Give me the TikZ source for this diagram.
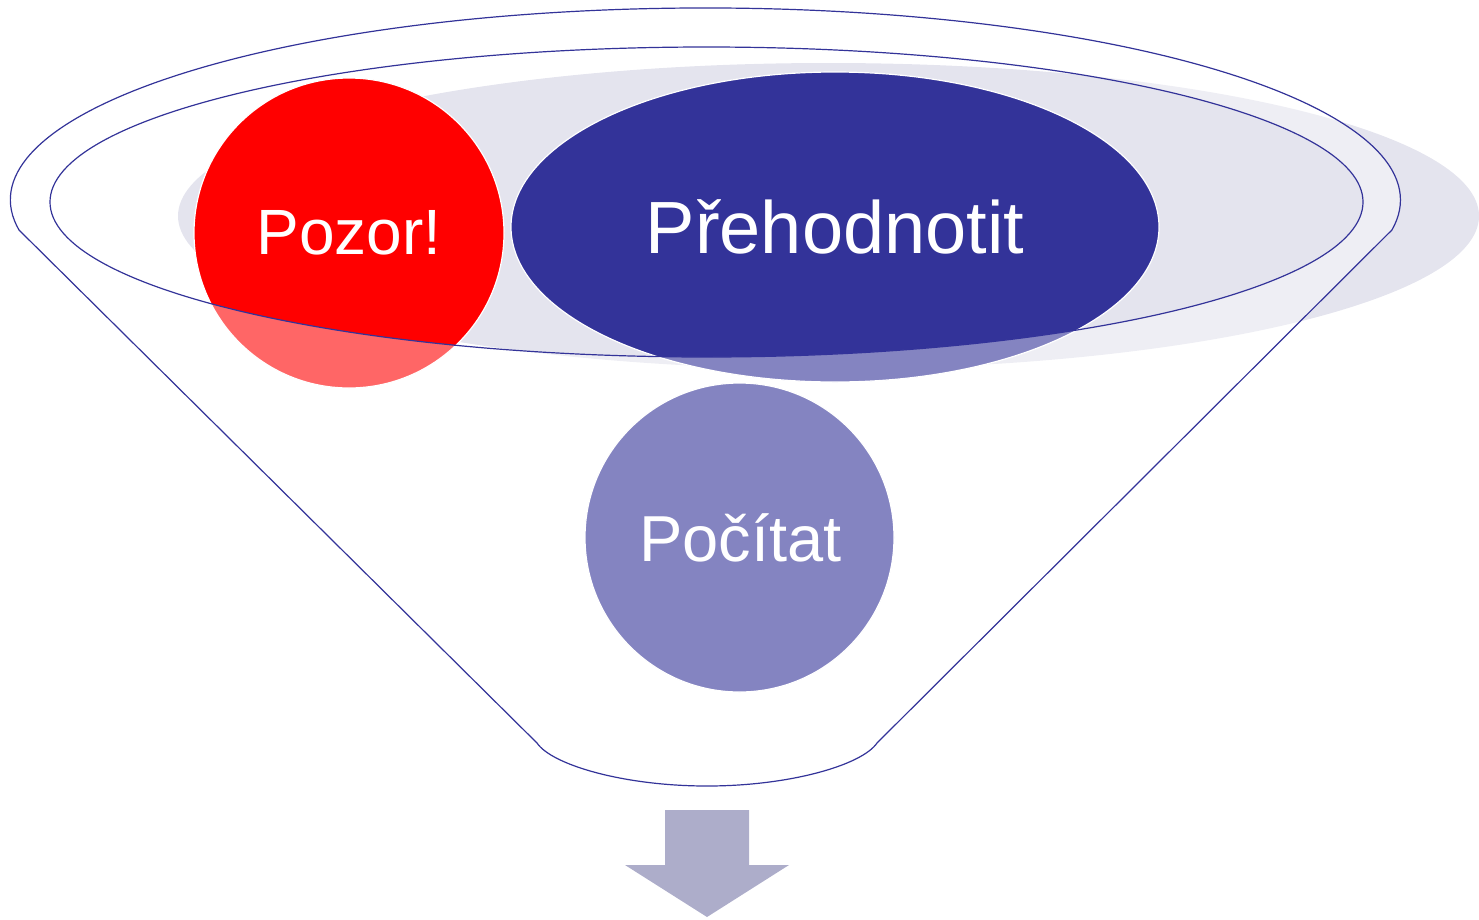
\documentclass[tikz,border=0pt]{standalone}
\usepackage{fontspec}
\setmainfont{Liberation Sans}
\usetikzlibrary{shapes.geometric}
\definecolor{funnelblue}{RGB}{51,51,153}
\definecolor{shadowgrey}{RGB}{228,228,238}
\definecolor{arrowgrey}{RGB}{173,173,202}

\tikzset{
  bubble/.style={draw=white, line width=1.2pt, text=white, inner sep=0pt},
  funnelline/.style={draw=funnelblue, line width=1.2pt}
}

\begin{document}
\begin{tikzpicture}[x=1pt, y=-1pt]
\useasboundingbox (0,0) rectangle (1479,919);

% shadow behind the opening
\fill[shadowgrey] (828.5,216) ellipse[x radius=650.5, y radius=153];

% the three bubbles
\node[bubble, circle, fill=red, minimum size=310pt, font=\fontsize{64}{72}\selectfont] (pozor) at (349,233) {Pozor!};
\node[bubble, ellipse, fill=funnelblue, minimum width=648pt, minimum height=310pt, font=\fontsize{74}{82}\selectfont] (prehodnotit) at (835,227) {Přehodnotit};
\node[bubble, circle, fill=funnelblue, minimum size=309pt, font=\fontsize{65}{72}\selectfont] (pocitat) at (739.5,537.5) {\hspace{2pt}Počítat};

% funnel body, see-through, with the opening cut out
\filldraw[funnelline, fill=white, fill opacity=0.4, even odd rule]
  (537,743) -- (19,230) arc[start angle=171, end angle=369, x radius=695, y radius=192]
  -- (877,743) .. controls (862,765) and (790,786) .. (707,786)
  .. controls (624,786) and (552,765) .. (537,743) -- cycle
  (706.5,202) ellipse[x radius=656.5, y radius=155];

% arrow out of the funnel
\fill[arrowgrey] (665,810) -- (749,810) -- (749,865) -- (789,865) -- (707,917)
  -- (625,865) -- (665,865) -- cycle;

\end{tikzpicture}
\end{document}
